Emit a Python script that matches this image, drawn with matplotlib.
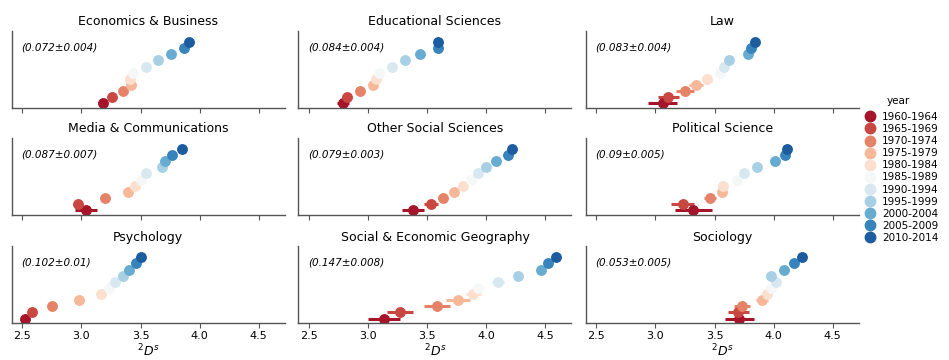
import numpy as np
import matplotlib.pyplot as plt
import seaborn as sns
from matplotlib.lines import Line2D

years = ['1960-1964', '1965-1969', '1970-1974', '1975-1979', '1980-1984', '1985-1989',
         '1990-1994', '1995-1999', '2000-2004', '2005-2009', '2010-2014']

fields = ['Economics & Business', 'Educational Sciences', 'Law',
          'Media & Communications', 'Other Social Sciences', 'Political Science',
          'Psychology', 'Social & Economic Geography', 'Sociology']

slopes = ['(0.072±0.004)', '(0.084±0.004)', '(0.083±0.004)',
          '(0.087±0.007)', '(0.079±0.003)', '(0.09±0.005)',
          '(0.102±0.01)', '(0.147±0.008)', '(0.053±0.005)']

# mean 2Ds per period and its confidence half-width
econ_ds = [3.18, 3.26, 3.35, 3.42, 3.41, 3.44, 3.55, 3.65, 3.76, 3.87, 3.91]
econ_err = [0.04, 0.03, 0.03, 0.02, 0.02, 0.02, 0.02, 0.02, 0.02, 0.02, 0.02]
edu_ds = [2.79, 2.82, 2.93, 3.04, 3.07, 3.09, 3.20, 3.31, 3.44, 3.59, 3.59]
edu_err = [0.05, 0.04, 0.03, 0.03, 0.03, 0.02, 0.02, 0.02, 0.02, 0.02, 0.02]
law_ds = [3.06, 3.11, 3.25, 3.34, 3.44, 3.55, 3.58, 3.62, 3.78, 3.81, 3.84]
law_err = [0.12, 0.09, 0.075, 0.06, 0.04, 0.03, 0.03, 0.03, 0.02, 0.02, 0.02]
media_ds = [3.04, 2.97, 3.20, 3.39, 3.45, 3.50, 3.55, 3.68, 3.71, 3.77, 3.85]
media_err = [0.095, 0.04, 0.045, 0.03, 0.03, 0.03, 0.02, 0.02, 0.02, 0.02, 0.02]
other_ds = [3.38, 3.53, 3.63, 3.73, 3.80, 3.87, 3.93, 4.00, 4.08, 4.18, 4.22]
other_err = [0.09, 0.06, 0.04, 0.03, 0.03, 0.02, 0.02, 0.02, 0.02, 0.02, 0.02]
poli_ds = [3.32, 3.23, 3.46, 3.56, 3.57, 3.69, 3.75, 3.86, 4.01, 4.10, 4.11]
poli_err = [0.155, 0.10, 0.05, 0.04, 0.03, 0.03, 0.02, 0.02, 0.02, 0.02, 0.02]
psych_ds = [2.52, 2.58, 2.75, 2.98, 3.17, 3.23, 3.28, 3.35, 3.40, 3.46, 3.50]
psych_err = [0.02, 0.02, 0.02, 0.02, 0.02, 0.02, 0.02, 0.02, 0.02, 0.02, 0.02]
geo_ds = [3.13, 3.27, 3.58, 3.76, 3.89, 3.93, 4.10, 4.27, 4.46, 4.52, 4.59]
geo_err = [0.135, 0.11, 0.11, 0.10, 0.065, 0.05, 0.05, 0.04, 0.03, 0.02, 0.02]
soc_ds = [3.71, 3.70, 3.73, 3.90, 3.94, 3.98, 4.02, 3.98, 4.09, 4.17, 4.24]
soc_err = [0.12, 0.09, 0.066, 0.05, 0.04, 0.03, 0.03, 0.02, 0.02, 0.02, 0.02]

series = [(econ_ds, econ_err), (edu_ds, edu_err), (law_ds, law_err),
          (media_ds, media_err), (other_ds, other_err), (poli_ds, poli_err),
          (psych_ds, psych_err), (geo_ds, geo_err), (soc_ds, soc_err)]

colors = sns.color_palette('RdBu', len(years))

fig = plt.figure(figsize=(9.49, 3.6), dpi=100)
lefts = [0.0123, 0.3145, 0.6172]
bottoms = [0.700, 0.4028, 0.102]
w, h = 0.2877, 0.214

for k, (name, (ds, err)) in enumerate(zip(fields, series)):
    r, c = divmod(k, 3)
    ax = fig.add_axes([lefts[c], bottoms[r], w, h])
    for i in range(len(years)):
        ax.errorbar(ds[i], i, xerr=err[i], fmt='o', color=colors[i],
                    ms=6.8, elinewidth=2.2, capsize=0, zorder=2)
    ax.set_xlim(2.41, 4.72)
    ax.set_ylim(-0.77, 11.8)
    ax.set_xticks([2.5, 3.0, 3.5, 4.0, 4.5])
    ax.set_yticks([])
    ax.set_title(name, fontsize=9, pad=4)
    ax.text(0.035, 0.79, slopes[k], transform=ax.transAxes, fontsize=7.5,
            style='italic', va='center', ha='left')
    for s in ['top', 'right']:
        ax.spines[s].set_visible(False)
    for s in ['left', 'bottom']:
        ax.spines[s].set_color('#555555')
        ax.spines[s].set_linewidth(1.0)
    ax.tick_params(axis='x', length=3.5, color='#555555', labelsize=8, pad=2)
    if r < 2:
        ax.set_xticklabels([])
    else:
        ax.set_xlabel(r'$^2D^s$', fontsize=9, labelpad=1)

# legend: title sits in line with the labels
handles = [Line2D([], [], marker='o', ls='none', color=colors[i], ms=7.5)
           for i in range(len(years))]
fig.legend(handles, years, loc='upper left',
           bbox_to_anchor=(0.902, 0.709), frameon=False, fontsize=7.5,
           labelspacing=0.2, handletextpad=0.6,
           handlelength=1.2, borderpad=0.2)
fig.text(0.934, 0.719, 'year', fontsize=7.5, ha='left', va='center')

fig.savefig('out.png', dpi=100)
